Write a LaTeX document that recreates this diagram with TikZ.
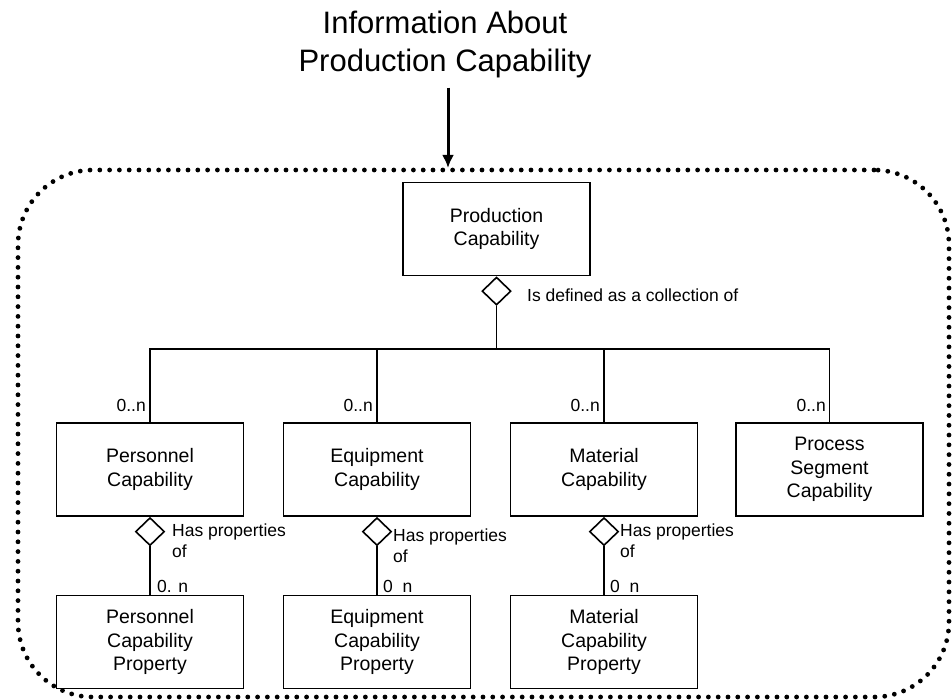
\documentclass[tikz,border=0pt]{standalone}
\usepackage{fontspec}
\setmainfont{Liberation Sans}
\usetikzlibrary{shapes.geometric,arrows.meta}
\tikzset{
  boxnode/.style={draw, line width=1.6pt, minimum width=187pt, minimum height=93pt,
    align=center, inner sep=0pt, font=\fontsize{19.5}{23.5}\selectfont},
  aggr/.style={draw, shape=diamond, line width=1.6pt, fill=white, minimum width=29pt,
    minimum height=28pt, inner sep=0pt},
  conn/.style={line width=1.6pt},
  lbl/.style={inner sep=0pt, font=\fontsize{17.5}{21}\selectfont},
  frame/.style={draw, line width=4.8pt, dash pattern=on 0pt off 9.8pt, line cap=round,
    rounded corners=75pt, minimum width=931pt, minimum height=527pt, inner sep=0pt},
}
\begin{document}
\begin{tikzpicture}[x=1pt,y=-1pt]
\useasboundingbox (0,0) rectangle (952,700);
% frame
\node[frame] (fr) at (483.5,433.5) {};
% title and arrow
\node[align=center, inner sep=0pt, font=\fontsize{31}{38}\selectfont] (title) at (445,44)
  {Information About\\Production Capability};
\coordinate (arrend) at (448,168);
\path (title.south -| arrend) ++(0,10) coordinate (arrstart);
\draw[line width=3pt, -{Latex[length=13pt,width=12pt]}] (arrstart) -- (arrend);
% boxes
\node[boxnode] (prod) at (496.5,229) {Production\\Capability};
\node[boxnode] (pers) at (150,469.5) {Personnel\\Capability};
\node[boxnode] (equi) at (377,469.5) {Equipment\\Capability};
\node[boxnode] (mate) at (604,469.5) {Material\\Capability};
\node[boxnode] (proc) at (829.5,469.5) {Process\\Segment\\Capability};
\node[boxnode] (persp) at (150,642) {Personnel\\Capability\\Property};
\node[boxnode] (equip) at (377,642) {Equipment\\Capability\\Property};
\node[boxnode] (matep) at (604,642) {Material\\Capability\\Property};
% diamonds
\node[aggr, anchor=north] (d0) at (prod.south) {};
\node[aggr, anchor=north] (d1) at (pers.south) {};
\node[aggr, anchor=north] (d2) at (equi.south) {};
\node[aggr, anchor=north] (d3) at (mate.south) {};
% bus
\coordinate (bus) at (496.5,349);
\draw[conn] (d0.south) -- (bus);
\draw[conn] (pers.north) |- (bus);
\draw[conn] (equi.north) |- (bus);
\draw[conn] (mate.north) |- (bus);
\draw[conn] (proc.north) |- (bus);
\draw[conn] (d1.south) -- (persp.north);
\draw[conn] (d2.south) -- (equip.north);
\draw[conn] (d3.south) -- (matep.north);
% labels
\node[lbl, anchor=west] (l0) at (527,295) {Is defined as a collection of};
\node[lbl, anchor=base east] (m1) at (146,411) {0..n};
\node[lbl, anchor=base east] (m2) at (373,411) {0..n};
\node[lbl, anchor=base east] (m3) at (600,411) {0..n};
\node[lbl, anchor=base east] (m4) at (826,411) {0..n};
\node[lbl, anchor=north west, align=left] (h1) at (172,524) {Has properties\\of};
\node[lbl, anchor=north west, align=left] (h2) at (393,529) {Has properties\\of};
\node[lbl, anchor=north west, align=left] (h3) at (620,524) {Has properties\\of};
\node[lbl, anchor=base west] (n1) at (157,592) {0. n};
\node[lbl, anchor=base west] (n2) at (383,592) {0\hspace{0.55em}n};
\node[lbl, anchor=base west] (n3) at (610,592) {0\hspace{0.55em}n};
\end{tikzpicture}
\end{document}
